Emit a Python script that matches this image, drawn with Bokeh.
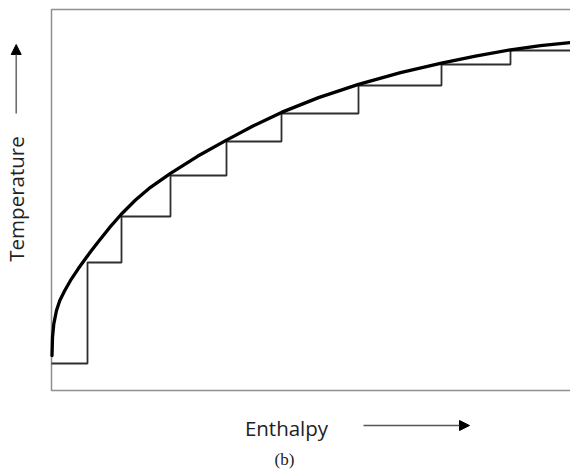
from math import pi
from bokeh.plotting import figure
from bokeh.models import Label, Arrow, NormalHead, Range1d
from bokeh.embed import file_html
from bokeh.resources import INLINE

# Data (arbitrary units: enthalpy -> x, temperature -> y)
curve_enthalpy = [0.5, 1, 2.3, 5, 8.3, 13.3, 20, 26.7, 35, 40, 47, 58, 70, 84,
                  99, 119, 146, 175, 202, 230, 267, 307, 349, 390, 424, 459,
                  489, 519]
curve_temperature = [35, 53, 66.7, 80, 90, 100, 111.7, 121.7, 133.3, 140, 149,
                     162.8, 176.5, 190.5, 203.2, 217.2, 234.2, 250.4, 264.7,
                     278.1, 292.9, 306.1, 317.9, 327.3, 334.4, 340.7, 344.9,
                     347.9]

step_enthalpy = [0, 36, 70, 119, 175, 230, 307, 390, 459, 519]
step_temperature = [27, 128, 174, 215, 249, 277, 305, 326, 340, 340]

x_label = "Enthalpy"
y_label = "Temperature"
caption = "(b)"

# plotting window (the drawn box) in the same units
x_min, x_max = 0, 530
t_min, t_max = 0, 381

p = figure(width=570, height=471, output_backend="svg", toolbar_location=None,
           x_axis_location=None, y_axis_location=None,
           x_range=Range1d(-51, 519), y_range=Range1d(-81, 390),
           min_border=0)
p.grid.visible = False
p.outline_line_color = None
p.background_fill_color = "white"
p.border_fill_color = "white"

# box around the plotting area
p.quad(left=[x_min], right=[x_max], bottom=[t_min], top=[t_max],
       fill_color=None, line_color="#8f8f8f", line_width=1.5)

p.step(step_enthalpy, step_temperature, mode="after", line_color="#2e2e2e", line_width=1.8)
p.line(curve_enthalpy, curve_temperature, line_color="black", line_width=3.3,
       line_join="round", line_cap="round")

p.add_layout(Label(x=-36, y=191.5, text=y_label, angle=pi / 2, text_align="center",
                   text_baseline="middle", text_font="Open Sans",
                   text_font_size="20.5px", text_color="#222222"))
p.add_layout(Label(x=235, y=-37, text=x_label, text_align="center",
                   text_baseline="middle", text_font="Open Sans",
                   text_font_size="20.5px", text_color="#222222"))
p.add_layout(Label(x=233, y=-69, text=caption, text_align="center",
                   text_baseline="middle", text_font="Liberation Serif",
                   text_font_size="17px", text_color="#222222"))

p.add_layout(Arrow(x_start=-35.3, y_start=277, x_end=-35.3, y_end=346,
                   line_color="#666666", line_width=1.5,
                   end=NormalHead(size=10, fill_color="black", line_color="black")))
p.add_layout(Arrow(x_start=312, y_start=-35, x_end=418, y_end=-35,
                   line_color="#555555", line_width=1.5,
                   end=NormalHead(size=10, fill_color="black", line_color="black")))

open("out.html", "w").write(file_html(p, INLINE))
